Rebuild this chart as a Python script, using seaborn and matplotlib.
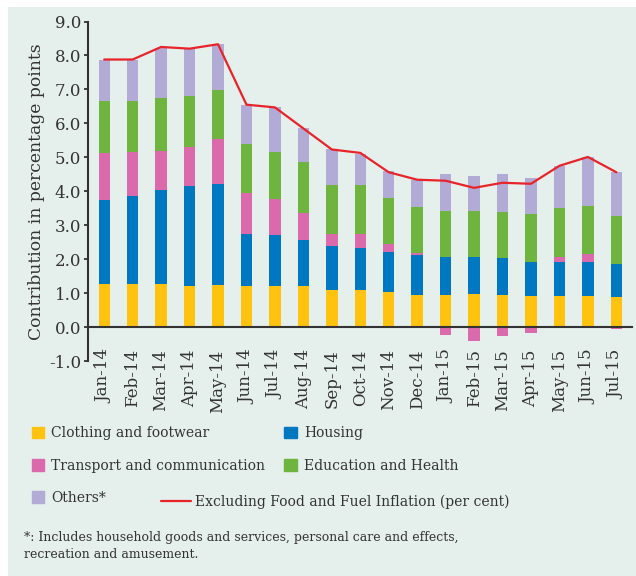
import numpy as np
import matplotlib
matplotlib.use('Agg')
import matplotlib.pyplot as plt
import seaborn as sns
from matplotlib.patches import Patch, Rectangle
from matplotlib.lines import Line2D

months = ['Jan-14', 'Feb-14', 'Mar-14', 'Apr-14', 'May-14', 'Jun-14', 'Jul-14', 'Aug-14',
          'Sep-14', 'Oct-14', 'Nov-14', 'Dec-14', 'Jan-15', 'Feb-15', 'Mar-15', 'Apr-15',
          'May-15', 'Jun-15', 'Jul-15']
clothing = [1.27, 1.27, 1.27, 1.22, 1.25, 1.22, 1.22, 1.22, 1.09, 1.09, 1.03, 0.93,
            0.93, 0.98, 0.93, 0.91, 0.91, 0.91, 0.89]
housing = [2.46, 2.60, 2.76, 2.94, 2.97, 1.53, 1.50, 1.35, 1.31, 1.24, 1.19, 1.18,
           1.13, 1.08, 1.09, 1.01, 1.01, 1.01, 0.97]
transport = [1.39, 1.28, 1.17, 1.15, 1.32, 1.21, 1.04, 0.80, 0.35, 0.42, 0.23, 0.08,
             -0.22, -0.42, -0.25, -0.17, 0.15, 0.22, -0.07]
education = [1.55, 1.52, 1.55, 1.50, 1.44, 1.43, 1.39, 1.48, 1.42, 1.42, 1.35, 1.34,
             1.35, 1.35, 1.36, 1.41, 1.44, 1.44, 1.40]
others = [1.21, 1.21, 1.47, 1.37, 1.35, 1.15, 1.32, 1.00, 1.06, 0.94, 0.79, 0.81,
          1.11, 1.05, 1.14, 1.06, 1.24, 1.43, 1.30]
core_inflation = [7.88, 7.88, 8.25, 8.20, 8.33, 6.55, 6.47, 5.85, 5.23, 5.13, 4.56, 4.34,
                  4.31, 4.10, 4.25, 4.22, 4.75, 5.01, 4.56]

series = [('Clothing and footwear', clothing, '#ffc20e'),
          ('Housing', housing, '#0078c1'),
          ('Transport and communication', transport, '#db6aad'),
          ('Education and Health', education, '#6eb43f'),
          ('Others*', others, '#b1abd6')]

sns.set_style('white')
plt.rcParams['font.family'] = ['DejaVu Serif']
bg = '#e5efeb'
ink = '#333333'

fig = plt.figure(figsize=(6.36, 5.76), dpi=100, facecolor='white')
fig.patches.append(Rectangle((8 / 636, 0), 1, 1 - 7 / 576, transform=fig.transFigure,
                             facecolor=bg, edgecolor='none', zorder=-10))
ax = fig.add_axes([88 / 636, 1 - 361 / 576, (632 - 88) / 636, (361 - 21.5) / 576])
ax.set_facecolor('none')

# stacked bars, negatives stacked downward from zero
x = np.arange(len(months))
pos_base = np.zeros(len(months))
neg_base = np.zeros(len(months))
for name, vals, col in series:
    v = np.array(vals)
    bottom = np.where(v >= 0, pos_base, neg_base)
    ax.bar(x, v, width=0.4, bottom=bottom, color=col, linewidth=0)
    pos_base = pos_base + np.clip(v, 0, None)
    neg_base = neg_base + np.clip(v, None, 0)

sns.lineplot(x=x, y=core_inflation, ax=ax, color='#e8242a', linewidth=1.6)

ax.set_xlim(-0.57, 18.55)
ax.set_ylim(-1, 9)
ax.set_yticks(np.arange(-1, 10, 1))
ax.set_yticklabels([f'{v:.1f}' for v in np.arange(-1, 10, 1)])
ax.set_xticks(x)
ax.set_xticklabels(months)
ax.set_xticks(np.arange(0.5, 19, 1), minor=True)
ax.tick_params(axis='x', which='major', length=0, pad=16, labelsize=12, colors=ink,
               labelrotation=90)
plt.setp(ax.get_xticklabels(), va='top', ha='center')
ax.tick_params(axis='x', which='minor', length=4, width=1.3, direction='out', color=ink)
ax.tick_params(axis='y', length=3, width=1.3, pad=2, labelsize=12, colors=ink, left=True)

for s in ['top', 'right']:
    ax.spines[s].set_visible(False)
ax.spines['bottom'].set_position(('data', 0))
for s in ['left', 'bottom']:
    ax.spines[s].set_color(ink)
    ax.spines[s].set_linewidth(1.5)

ax.set_ylabel('Contribution in percentage points', fontsize=12.3, color=ink)
ax.yaxis.set_label_coords(-0.079, 0.5)

handles = [Patch(color=c, label=n) for n, _, c in
           [series[0], series[2], series[4], series[1], series[3]]]
leg1 = fig.legend(handles=handles, ncol=2, loc='upper left', bbox_to_anchor=(19 / 636, 1 - 414 / 576),
                  frameon=False, fontsize=10, handlelength=0.9, handleheight=0.9,
                  handletextpad=0.5, labelspacing=1.3, columnspacing=1.4, labelcolor=ink)
leg2 = fig.legend(handles=[Line2D([0], [0], color='#e8242a', linewidth=1.6,
                                  label='Excluding Food and Fuel Inflation (per cent)')],
                  loc='upper left', bbox_to_anchor=(148 / 636, 1 - 482 / 576), frameon=False,
                  fontsize=10, handlelength=2.2, handletextpad=0.3, labelcolor=ink)

fig.text(24 / 636, 1 - 546 / 576,
         '*: Includes household goods and services, personal care and effects,\nrecreation and amusement.',
         fontsize=9, color=ink, va='center', ha='left', linespacing=1.45)

fig.savefig('out.png', dpi=100, facecolor=fig.get_facecolor())
